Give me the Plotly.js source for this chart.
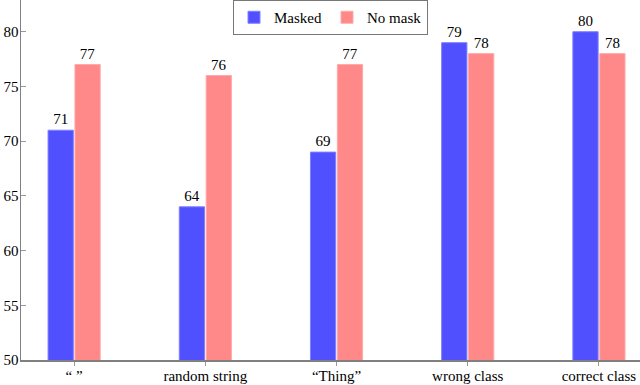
<!DOCTYPE html>
<html>
<head>
<meta charset="utf-8">
<script src="https://cdn.plot.ly/plotly-3.0.1.min.js"></script>
<style>
  html, body { margin: 0; padding: 0; background: #fff; }
  #chart { width: 640px; height: 385px; }
</style>
</head>
<body>
<div id="chart"></div>
<script>
  const categories = ["\u201c \u201d", "random string", "\u201cThing\u201d", "wrong class", "correct class"];
  const masked = [71, 64, 69, 79, 80];
  const noMask = [77, 76, 77, 78, 78];

  const serif = "'Liberation Serif', 'DejaVu Serif', serif";

  let traceMasked = {
    type: "bar",
    name: "Masked",
    x: categories,
    y: masked,
    text: masked.map(String),
    textposition: "outside",
    textfont: { family: serif, size: 15, color: "#000" },
    marker: { color: "#5050ff", line: { color: "#8080ff", width: 1 } },
    cliponaxis: false,
  };

  let traceNoMask = {
    type: "bar",
    name: "No mask",
    x: categories,
    y: noMask,
    text: noMask.map(String),
    textposition: "outside",
    textfont: { family: serif, size: 15, color: "#000" },
    marker: { color: "#ff8888", line: { color: "#ffaaaa", width: 1 } },
    cliponaxis: false,
  };

  let layout = {
    width: 640,
    height: 385,
    margin: { l: 21, r: 0, t: 0, b: 25 },
    paper_bgcolor: "#fff",
    plot_bgcolor: "#fff",
    font: { family: serif, size: 15, color: "#000" },
    barmode: "group",
    bargap: 0.59,
    bargroupgap: 0.06,
    showlegend: true,
    legend: {
      orientation: "h",
      x: 0.5,
      xanchor: "center",
      y: 1,
      yanchor: "top",
      bordercolor: "#777",
      borderwidth: 1,
      bgcolor: "#fff",
      font: { family: serif, size: 15, color: "#000" },
      itemwidth: 30,
      tracegroupgap: 0,
    },
    xaxis: {
      range: [-0.405, 4.313],
      showline: true,
      linecolor: "#808080",
      linewidth: 1.5,
      ticks: "outside",
      ticklen: 4,
      tickcolor: "#999",
      ticklabelstandoff: -3,
      showgrid: false,
      zeroline: false,
      tickfont: { family: serif, size: 15 },
    },
    yaxis: {
      range: [50, 82.9],
      tickvals: [50, 55, 60, 65, 70, 75, 80],
      showline: true,
      linecolor: "#808080",
      linewidth: 1.5,
      ticks: "inside",
      ticklen: 5,
      tickcolor: "#999",
      ticklabelstandoff: -2,
      showgrid: false,
      zeroline: false,
      tickfont: { family: serif, size: 15 },
    },
  };

  Plotly.newPlot("chart", [traceMasked, traceNoMask], layout, { staticPlot: true });
</script>
</body>
</html>
